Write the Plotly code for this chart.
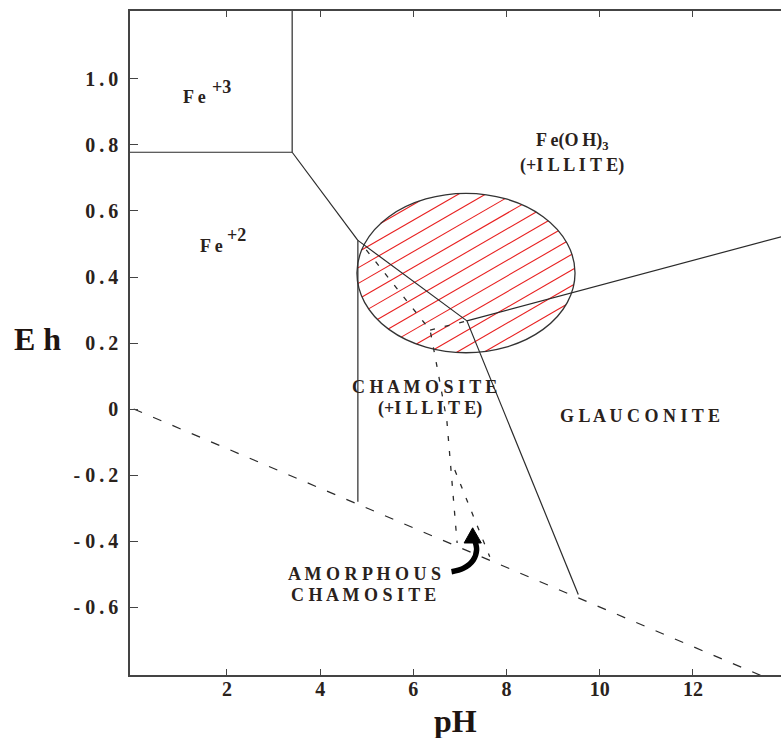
import math
import plotly.graph_objects as go

# ---- axes -------------------------------------------------------------
PH_RANGE = [-0.08, 13.89]
EH_RANGE = [-0.806, 1.206]
ph_ticks = [2, 4, 6, 8, 10, 12]
ph_ticktext = ["2", "4", "6", "8", "10", "12"]
eh_ticks = [1.0, 0.8, 0.6, 0.4, 0.2, 0.0, -0.2, -0.4, -0.6]
eh_ticktext = ["1.0", "0.8", "0.6", "0.4", "0.2", "0", "- 0.2", "- 0.4", "- 0.6"]

# ---- stability-field boundaries (pH, Eh) -----------------------------
fe3_fe2_ph, fe3_fe2_eh = [-0.2, 3.40], [0.778, 0.778]
fe3_feoh3_ph, fe3_feoh3_eh = [3.40, 3.40], [0.778, 1.30]
fe2_feoh3_ph, fe2_feoh3_eh = [3.40, 4.81], [0.778, 0.511]
cham_feoh3_ph, cham_feoh3_eh = [4.81, 7.15], [0.511, 0.267]
glau_feoh3_ph, glau_feoh3_eh = [7.15, 13.95], [0.267, 0.524]
cham_glau_ph, cham_glau_eh = [7.15, 9.54], [0.267, -0.562]
fe2_cham_ph, fe2_cham_eh = [4.81, 4.81], [0.511, -0.281]

# lower stability limit of water
water_ph, water_eh = [0.0, 14.0], [0.0, -0.84]

# amorphous chamosite boundaries (dashed)
amorph_a_ph = [4.99, 6.36, 6.53, 6.72, 6.94]
amorph_a_eh = [0.482, 0.239, 0.112, -0.036, -0.406]
amorph_b_ph, amorph_b_eh = [6.36, 7.15], [0.239, 0.267]
amorph_c_ph, amorph_c_eh = [6.89, 7.64], [-0.185, -0.448]

# field of natural sea-floor environments (ellipse)
env_center = (7.13, 0.412)
env_radius = (2.34, 0.2415)

# ---- figure geometry --------------------------------------------------
W, H = 781, 738
ML, MR, MT, MB = 130, 0, 11, 63
px_per_ph = (W - ML - MR) / (PH_RANGE[1] - PH_RANGE[0])
px_per_eh = (H - MT - MB) / (EH_RANGE[1] - EH_RANGE[0])

SERIF = "Liberation Serif, Times New Roman, serif"
INK = "#2a221c"
LINE = "#2a2a2a"


def hatch_segments(center, radius, angle_deg, spacing_px):
    """Parallel chords of the ellipse, evenly spaced in screen pixels."""
    a = radius[0] * px_per_ph
    b = radius[1] * px_per_eh
    th = math.radians(angle_deg)
    dx, dy = math.cos(th), math.sin(th)
    nx, ny = -dy, dx
    half = math.sqrt((a * nx) ** 2 + (b * ny) ** 2)
    xs, ys = [], []
    k = math.floor(half / spacing_px) + 1
    for i in range(-k, k + 1):
        s = i * spacing_px + spacing_px * 0.3
        ox, oy = s * nx, s * ny
        qa = (dx / a) ** 2 + (dy / b) ** 2
        qb = 2 * (ox * dx / a ** 2 + oy * dy / b ** 2)
        qc = (ox / a) ** 2 + (oy / b) ** 2 - 1
        disc = qb * qb - 4 * qa * qc
        if disc <= 0:
            continue
        r = math.sqrt(disc)
        for t in ((-qb - r) / (2 * qa), (-qb + r) / (2 * qa)):
            xs.append(center[0] + (ox + t * dx) / px_per_ph)
            ys.append(center[1] + (oy + t * dy) / px_per_eh)
        xs.append(None)
        ys.append(None)
    return xs, ys


fig = go.Figure()

hx, hy = hatch_segments(env_center, env_radius, 30, 13.6)
fig.add_trace(go.Scatter(x=hx, y=hy, mode="lines",
                         line=dict(color="rgb(232,32,32)", width=1.1)))

solid = [
    (fe3_fe2_ph, fe3_fe2_eh), (fe3_feoh3_ph, fe3_feoh3_eh),
    (fe2_feoh3_ph, fe2_feoh3_eh), (cham_feoh3_ph, cham_feoh3_eh),
    (glau_feoh3_ph, glau_feoh3_eh), (cham_glau_ph, cham_glau_eh),
    (fe2_cham_ph, fe2_cham_eh),
]
for xs, ys in solid:
    fig.add_trace(go.Scatter(x=xs, y=ys, mode="lines",
                             line=dict(color=LINE, width=1.2)))

fig.add_trace(go.Scatter(x=water_ph, y=water_eh, mode="lines",
                         line=dict(color=LINE, width=1.2, dash="9px,12px")))
for xs, ys in [(amorph_a_ph, amorph_a_eh), (amorph_b_ph, amorph_b_eh),
               (amorph_c_ph, amorph_c_eh)]:
    fig.add_trace(go.Scatter(x=xs, y=ys, mode="lines",
                             line=dict(color=LINE, width=1.3, dash="5px,10px")))

# curved pointer to the amorphous chamosite field
arrow_ph = [6.82, 7.07, 7.285, 7.358, 7.322]
arrow_eh = [-0.493, -0.483, -0.458, -0.427, -0.400]
fig.add_trace(go.Scatter(x=arrow_ph, y=arrow_eh, mode="lines",
                         line=dict(color="black", width=5.5, shape="spline")))
head_ph = [7.09, 7.46, 7.273, 7.09]
head_eh = [-0.406, -0.406, -0.360, -0.406]
fig.add_trace(go.Scatter(x=head_ph, y=head_eh, mode="lines", fill="toself",
                         fillcolor="black", line=dict(color="black", width=1)))

fig.add_shape(type="circle", xref="x", yref="y",
              x0=env_center[0] - env_radius[0], x1=env_center[0] + env_radius[0],
              y0=env_center[1] - env_radius[1], y1=env_center[1] + env_radius[1],
              line=dict(color="#333333", width=1.3))


def spaced(word, gap=" "):
    return gap.join(word)


def label(text, x, y, size=18):
    fig.add_annotation(x=x, y=y, xref="x", yref="y", text=text, showarrow=False,
                       xanchor="center", yanchor="middle",
                       font=dict(family=SERIF, size=size, color=INK, weight="bold"))


label("F e", 1.30, 0.945)
label("+3", 1.89, 0.976)
label("F e", 1.67, 0.495)
label("+2", 2.20, 0.527)
label("F\u2009e(O\u2009H)<sub>3</sub>", 9.40, 0.812)
label("(+" + spaced("ILLITE") + ")", 9.40, 0.739)
label(spaced("CHAMOSITE"), 6.25, 0.068)
label("(+" + spaced("ILLITE") + ")", 6.36, 0.002)
label(spaced("GLAUCONITE"), 10.86, -0.022)
label(spaced("AMORPHOUS"), 4.96, -0.500)
label(spaced("CHAMOSITE"), 4.94, -0.564)

fig.add_annotation(x=0, xref="paper", xshift=-93, y=0.212, yref="y",
                   text="E h", showarrow=False, xanchor="center", yanchor="middle",
                   font=dict(family=SERIF, size=32, color="#1e1410", weight="bold"))
fig.add_annotation(x=6.91, xref="x", y=0, yref="paper", yshift=-46,
                   text="pH", showarrow=False, xanchor="center", yanchor="middle",
                   font=dict(family=SERIF, size=32, color="#1e1410", weight="bold"))

fig.update_layout(
    width=W, height=H,
    margin=dict(l=ML, r=MR, t=MT, b=MB, pad=0),
    paper_bgcolor="white", plot_bgcolor="white",
    showlegend=False,
    xaxis=dict(range=PH_RANGE, tickvals=ph_ticks, ticktext=ph_ticktext,
               ticks="inside", ticklen=6, tickcolor="#444", tickwidth=1.2,
               showline=True, linecolor="#444", linewidth=1.6, mirror="ticks",
               showgrid=False, zeroline=False, ticklabelstandoff=-5,
               tickfont=dict(family=SERIF, size=20, color=INK, weight="bold")),
    yaxis=dict(range=EH_RANGE, tickvals=eh_ticks,
               ticktext=[t.replace(".", "\u2009.\u2009") for t in eh_ticktext],
               ticks="inside", ticklen=8, tickcolor="#444", tickwidth=1.2,
               showline=True, linecolor="#444", linewidth=1.6,
               showgrid=False, zeroline=False, ticklabelstandoff=6,
               tickfont=dict(family=SERIF, size=20, color=INK, weight="bold")),
)

fig.write_html("out.html")
